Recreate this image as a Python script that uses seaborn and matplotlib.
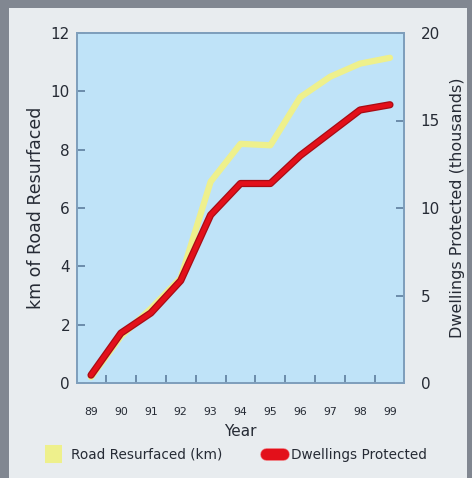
import matplotlib
matplotlib.use("Agg")
import matplotlib.pyplot as plt
import matplotlib.patheffects as pe
from matplotlib.patches import Rectangle
from matplotlib.lines import Line2D
import seaborn as sns
import numpy as np
import pandas as pd

# Data
years = ['89', '90', '91', '92', '93', '94', '95', '96', '97', '98', '99']
road_km = [0.2, 1.6, 2.55, 3.6, 6.9, 8.2, 8.15, 9.8, 10.5, 10.95, 11.15]
dwellings_k = [0.45, 2.85, 4.0, 5.85, 9.6, 11.4, 11.4, 13.0, 14.3, 15.6, 15.9]

sns.set_theme(style="white")
plt.rcParams['font.family'] = ['DejaVu Sans']

TEXT = '#262b35'
SPINE = '#7f9fbc'
TICK = '#6585a4'
PLOT_BG = '#bfe3f8'
YELLOW = '#eef08c'
RED = '#e3101a'
RED_EDGE = '#a80c14'

df = pd.DataFrame({'pos': np.arange(len(years)), 'road': road_km, 'dwell': dwellings_k})

W, H = 472, 478
fig = plt.figure(figsize=(W / 100, H / 100), dpi=100, facecolor='#818791')
fig.patches.append(Rectangle((9 / W, 0), (467 - 9) / W, (H - 8) / H,
                             transform=fig.transFigure, facecolor='#e8ecef',
                             edgecolor='none', zorder=-10))

ax = fig.add_axes([77 / W, (H - 383) / H, (404 - 77) / W, (383 - 33) / H])
ax.set_facecolor(PLOT_BG)
ax2 = ax.twinx()

sns.lineplot(data=df, x='pos', y='road', ax=ax, color=YELLOW, linewidth=4.5,
             solid_capstyle='round', solid_joinstyle='round', legend=False)
sns.lineplot(data=df, x='pos', y='dwell', ax=ax2, color=RED, linewidth=3.4,
             solid_capstyle='round', solid_joinstyle='round', legend=False,
             path_effects=[pe.Stroke(linewidth=5.2, foreground=RED_EDGE), pe.Normal()])

ax.set_xlim(-0.47, 10.47)
ax.set_ylim(0, 12)
ax2.set_ylim(0, 20)

ax.set_yticks(np.arange(0, 13, 2))
ax2.set_yticks(np.arange(0, 21, 5))
ax.set_xticks(np.arange(len(years)))
ax.set_xticklabels(years)
ax.set_xticks(np.arange(len(years) - 1) + 0.5, minor=True)

for a in (ax, ax2):
    for s in a.spines.values():
        s.set_color(SPINE)
        s.set_linewidth(1.4)

ax.grid(False)
ax2.grid(False)

ax.set_xlabel('Year', fontsize=11, color=TEXT, labelpad=5)
ax.set_ylabel('km of Road Resurfaced', fontsize=12.5, color=TEXT, labelpad=4)
ax2.set_ylabel('Dwellings Protected (thousands)', fontsize=11.5, color=TEXT, labelpad=7)

# tick styling
ax.yaxis.set_ticks_position('left')
ax2.yaxis.set_ticks_position('right')
ax.yaxis.set_tick_params(which='major', direction='in', length=6, width=1.3, color=TICK,
                         left=True, labelsize=11, labelcolor=TEXT, pad=5)
ax2.yaxis.set_tick_params(which='major', direction='in', length=6, width=1.3, color=TICK,
                          right=True, labelsize=11, labelcolor=TEXT, pad=12)
ax.xaxis.set_tick_params(which='major', length=0, labelsize=7.8, labelcolor=TEXT, pad=17)
ax.xaxis.set_tick_params(which='minor', direction='in', length=6, width=1.3, color=TICK,
                         bottom=True)

handles = [
    Line2D([], [], color=YELLOW, linewidth=13, solid_capstyle='butt'),
    Line2D([], [], color=RED, linewidth=8, solid_capstyle='round',
           path_effects=[pe.Stroke(linewidth=9, foreground='#f06a70'), pe.Normal()]),
]
fig.legend(handles, ['Road Resurfaced (km)', 'Dwellings Protected'],
           loc='center', bbox_to_anchor=(0.5, (H - 455) / H), ncol=2, frameon=False,
           fontsize=9.8, labelcolor=TEXT, handlelength=1.3, handletextpad=0.6,
           columnspacing=3.2)

fig.savefig('out.png', dpi=100, facecolor=fig.get_facecolor())
